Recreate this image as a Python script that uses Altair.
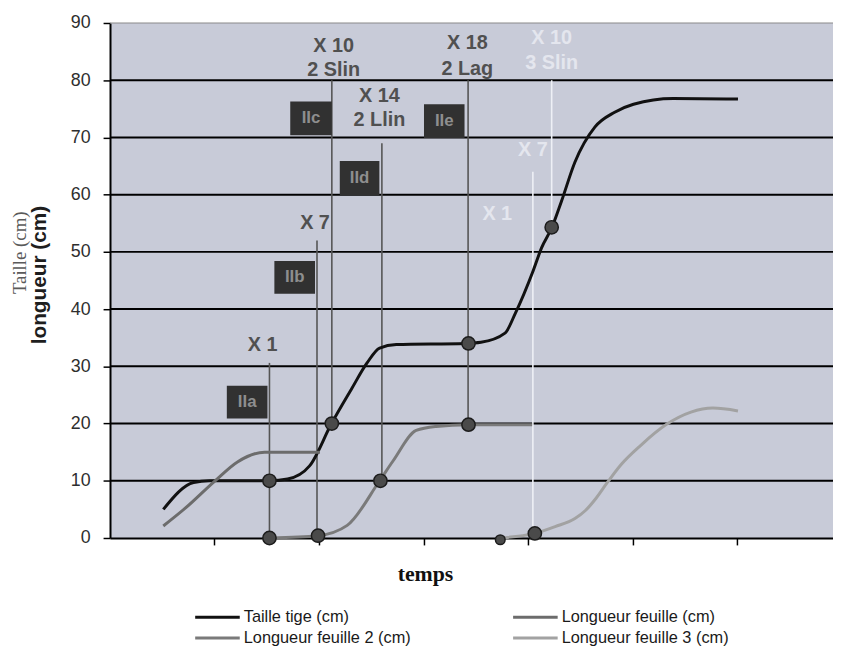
import altair as alt
import pandas as pd

# ---------------- data (x = time units, y = cm) -------------
series_names = ["Taille tige (cm)", "Longueur feuille (cm)",
                "Longueur feuille 2 (cm)", "Longueur feuille 3 (cm)"]
series_colors = ["#111111", "#6c6c6c", "#7a7a7a", "#a2a2a2"]

stem_t = [0.51, 0.80, 0.95, 1.53, 1.70, 1.91, 2.12, 2.31, 2.46, 2.58, 2.74, 3.40,
          3.55, 3.78, 3.88, 4.05, 4.13, 4.23, 4.32, 4.45, 4.64, 4.83, 5.01, 5.39, 6.01]
stem_v = [5.0, 9.7, 10.0, 10.0, 10.3, 12.6, 20.0, 26.0, 30.6, 33.2, 33.8, 34.0,
          34.2, 35.8, 39.3, 46.7, 50.7, 54.3, 58.8, 65.7, 71.8, 74.4, 75.8, 76.8, 76.7]

leaf1_t = [0.51, 0.72, 1.00, 1.22, 1.48, 2.01]
leaf1_v = [2.1, 5.2, 9.9, 13.3, 15.0, 15.0]

leaf2_t = [1.54, 1.99, 2.27, 2.58, 2.71, 2.93, 3.12, 3.43, 4.04]
leaf2_v = [0.0, 0.4, 2.2, 10.0, 13.5, 18.8, 19.5, 19.8, 19.8]

leaf3_t = [3.73, 4.06, 4.26, 4.45, 4.55, 4.65, 4.76, 4.89, 5.08, 5.33, 5.56, 5.77, 6.01]
leaf3_v = [0.0, 0.8, 2.0, 3.4, 4.8, 6.9, 9.7, 12.8, 16.2, 19.9, 22.0, 22.7, 22.2]

# highlighted points
pt_t = [1.526, 1.526, 1.991, 2.123, 2.588, 3.431, 3.431, 3.735, 4.066, 4.227]
pt_v = [10.0, 0.0, 0.4, 20.0, 10.0, 19.8, 34.0, -0.3, 0.8, 54.3]
pt_big = [True, True, True, True, True, True, True, False, True, True]

# vertical marker lines
vl_t = [1.526, 1.981, 2.123, 2.602, 3.427, 4.047, 4.227]
vl_lo = [0, 0, 20, 10, 20, 0, 54]
vl_hi = [30.6, 52, 80, 69, 80, 64, 80]
vl_white = [False, False, False, False, False, True, True]

# marker labels
lab_t = [1.46, 1.962, 2.14, 2.14, 2.578, 2.578, 3.42, 3.42, 4.227, 4.227, 4.047, 3.706]
lab_v = [33.7, 55.0, 86.0, 81.8, 77.2, 73.0, 86.5, 82.0, 87.4, 83.0, 67.8, 56.6]
lab_text = ["X 1", "X 7", "X 10", "2 Slin", "X 14", "2 Llin", "X 18", "2 Lag",
            "X 10", "3 Slin", "X 7", "X 1"]
lab_white = [False] * 8 + [True] * 4

# stage boxes
box_name = ["IIa", "IIb", "IIc", "IId", "IIe"]
box_t1 = [1.118, 1.573, 1.725, 2.199, 3.005]
box_t2 = [1.507, 1.962, 2.123, 2.578, 3.393]
box_v1 = [20.9, 42.7, 70.4, 59.9, 69.9]
box_v2 = [26.6, 48.4, 76.3, 65.9, 75.8]

grid_values = [10, 20, 30, 40, 50, 60, 70, 80]
y_ticks = [0, 10, 20, 30, 40, 50, 60, 70, 80, 90]
x_ticks = [1, 2, 3, 4, 5, 6]

# ---------------- tables -------------------------------------------------------------
rows = []
for name, ts, vs in zip(series_names, [stem_t, leaf1_t, leaf2_t, leaf3_t],
                        [stem_v, leaf1_v, leaf2_v, leaf3_v]):
    for t, v in zip(ts, vs):
        rows.append({"serie": name, "t": t, "v": v})
lines_df = pd.DataFrame(rows)

pts_df = pd.DataFrame({"t": pt_t, "v": pt_v,
                       "s": [180 if b else 95 for b in pt_big]})
vl_df = pd.DataFrame({"t": vl_t, "lo": vl_lo, "hi": vl_hi,
                      "c": ["#eef0f6" if w else "#555555" for w in vl_white]})
lab_df = pd.DataFrame({"t": lab_t, "v": lab_v, "txt": lab_text,
                       "c": ["#e4e6ee" if w else "#505050" for w in lab_white]})
box_df = pd.DataFrame({"name": box_name, "t1": box_t1, "t2": box_t2,
                       "v1": box_v1, "v2": box_v2})
box_df["tc"] = (box_df.t1 + box_df.t2) / 2
box_df["vc"] = (box_df.v1 + box_df.v2) / 2
grid_df = pd.DataFrame({"v": grid_values})
top_df = pd.DataFrame({"v": [90]})

# ---------------- geometry -------------------------------------------------------------
W, H = 730, 520
PX_PER_UNIT = 105.5
XMAX = W / PX_PER_UNIT
SANS = "Liberation Sans"
SERIF = "Liberation Serif"

x_axis = alt.Axis(values=x_ticks, labels=False, tickSize=7, tickColor="#000",
                  tickWidth=1.5, domainColor="#000", domainWidth=2, grid=False,
                  title="temps", titleFont=SERIF, titleFontSize=22,
                  titleFontWeight="bold", titleColor="#111",
                  titleX=318, titleY=36, titleBaseline="middle")
y_axis = alt.Axis(values=y_ticks, tickSize=7, tickColor="#000", tickWidth=1.5,
                  domainColor="#000", domainWidth=2, grid=False,
                  labelFont=SANS, labelFontSize=18, labelColor="#2e2e2e",
                  labelPadding=13,
                  title="longueur (cm)", titleFont=SANS, titleFontSize=21,
                  titleFontWeight="bold", titleColor="#1e1e1e",
                  titleX=-71, titleY=254, titleBaseline="middle", titleAngle=270)
xs = alt.Scale(domain=[0, XMAX], nice=False, zero=False)
ys = alt.Scale(domain=[0, 90], nice=False)


def X(f):
    return alt.X(f, type="quantitative", scale=xs, axis=x_axis)


def Y(f):
    return alt.Y(f, type="quantitative", scale=ys, axis=y_axis)


grid = alt.Chart(grid_df).mark_rule(color="#000", strokeWidth=2).encode(
    y=Y("v"), x=alt.value(0), x2=alt.value(W))
top = alt.Chart(top_df).mark_rule(color="#8a8a8a", strokeWidth=1.2).encode(
    y=Y("v"), x=alt.value(0), x2=alt.value(W))

vlines = alt.Chart(vl_df).mark_rule(strokeWidth=1.6).encode(
    x=X("t"), y=Y("lo"), y2="hi", color=alt.Color("c:N", scale=None))

boxes = alt.Chart(box_df).mark_rect(fill="#313131").encode(
    x=X("t1"), x2="t2", y=Y("v1"), y2="v2")
box_txt = alt.Chart(box_df).mark_text(font=SANS, fontSize=17, fontWeight="bold",
                                      color="#8e8e8e").encode(
    x=X("tc"), y=Y("vc"), text="name:N")

labels = alt.Chart(lab_df).mark_text(font=SANS, fontSize=20, fontWeight="bold").encode(
    x=X("t"), y=Y("v"), text="txt:N", color=alt.Color("c:N", scale=None))

curves = alt.Chart(lines_df).mark_line(interpolate="monotone", strokeWidth=3).encode(
    x=X("t"), y=Y("v"),
    color=alt.Color("serie:N", scale=alt.Scale(domain=series_names, range=series_colors),
                    legend=None))

points = alt.Chart(pts_df).mark_circle(fill="#4a4a4a", stroke="#1c1c1c",
                                       strokeWidth=1.5, opacity=1).encode(
    x=X("t"), y=Y("v"), size=alt.Size("s:Q", scale=None))

# manual legend (two columns, row-major)
legend_layers = []
col_x = [197 - 111, 518 - 111]
row_y = [620 - 20, 641 - 20]
for i, (name, colr) in enumerate(zip(series_names, series_colors)):
    cx, ry = col_x[i % 2], row_y[i // 2]
    one = pd.DataFrame({"serie": [name]})
    legend_layers.append(alt.Chart(one).mark_rule(color=colr, strokeWidth=3.2).encode(
        x=alt.value(cx), x2=alt.value(cx + 45), y=alt.value(ry)))
    legend_layers.append(alt.Chart(one).mark_text(
        align="left", baseline="middle", font=SANS, fontSize=16.5, color="#1a1a1a").encode(
        x=alt.value(cx + 49), y=alt.value(ry), text="serie:N"))

taille = alt.Chart(pd.DataFrame({"t": ["Taille (cm)"]})).mark_text(
    angle=270, font=SERIF, fontSize=19, color="#5a5a5a", baseline="middle").encode(
    x=alt.value(20 - 111), y=alt.value(252 - 20), text="t:N")

chart = alt.layer(grid, top, vlines, boxes, box_txt, labels, curves, points,
                  taille, *legend_layers).properties(
    width=W, height=H,
    autosize=alt.AutoSizeParams(type="none"),
    padding={"left": 103, "top": 12, "right": 0, "bottom": 114},
).configure(background="#ffffff").configure_view(fill="#c8cbd8", stroke=None)

chart.save("out.html", embed_options={"renderer": "svg", "actions": False})
